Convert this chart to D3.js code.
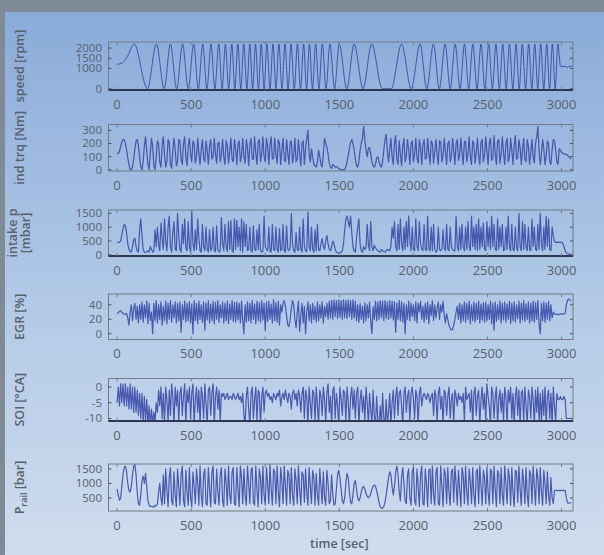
<!DOCTYPE html>
<html><head><meta charset="utf-8">
<script src="https://cdn.jsdelivr.net/npm/d3@7"></script>
<style>body{margin:0;background:#7e8a96}svg{display:block}</style>
</head><body>
<svg id="c" width="604" height="555"></svg>
<script>
// ---------------- DATA ----------------
const xTicks=[0,500,1000,1500,2000,2500,3000];
const speedTicks=[0,1000,1500,2000];
const trqTicks=[0,100,200,300];
const intakeTicks=[0,500,1000,1500];
const egrTicks=[0,20,40];
const soiTicks=[-10,-5,0];
const prailTicks=[500,1000,1500];
const sampleStep=8; // seconds between samples of the sampled series

// speed [rpm]: [time, value] at turning points
const speedPts=[[0,1200],[35,1280],[70,1600],[115,2200],[205,0],[265,2200],[318,0],[360,2200],[402,0],[442,2200],[480,0],[517,2200],[548,0],[578,2200],[606,0],[634,2200],[660,0],[686,2200],[709,0],[731,2200],[753,0],[774,2200],[795,0],[815,2200],[835,0],[855,2200],[876,0],[896,2200],[915,0],[934,2200],[954,0],[973,2200],[992,0],[1011,2200],[1032,0],[1052,2200],[1072,0],[1092,2200],[1113,0],[1133,2200],[1154,0],[1174,2200],[1196,0],[1217,2200],[1238,0],[1259,2200],[1279,0],[1298,2200],[1319,0],[1340,2200],[1362,0],[1385,2200],[1410,0],[1436,2200],[1468,0],[1499,2200],[1550,0],[1600,2200],[1660,0],[1718,2200],[1790,0],[1850,0],[1920,2200],[1985,0],[2045,2200],[2090,0],[2135,2200],[2175,0],[2214,2200],[2248,0],[2282,2200],[2314,0],[2345,2200],[2373,0],[2401,2200],[2429,0],[2456,2200],[2482,0],[2508,2200],[2533,0],[2557,2200],[2580,0],[2603,2200],[2626,0],[2648,2200],[2671,0],[2693,2200],[2714,0],[2735,2200],[2757,0],[2778,2200],[2799,0],[2819,2200],[2839,0],[2859,2200],[2880,0],[2900,2200],[2919,0],[2938,2200],[2957,0],[2975,2200],[2993,1100],[3030,1100],[3040,1050],[3050,1100],[3072,1100]];

// ind trq [Nm], one value every 8 s
const trqVals=[
120,125,140,180,210,230,230,200,150,90,
40,0,0,20,80,160,220,230,180,100,
20,0,60,180,250,150,40,0,120,240,
180,30,0,100,220,200,60,20,180,250,
120,20,60,230,210,40,10,150,240,150,
30,60,230,220,80,40,200,250,100,30,
180,240,120,60,220,200,50,100,240,130,
40,160,230,90,60,220,150,40,180,230,
80,100,240,120,50,200,210,60,120,230,
100,40,220,180,50,140,240,80,60,230,
160,40,200,220,60,110,240,100,50,230,
170,30,190,240,80,80,250,130,40,210,
230,60,120,250,100,60,240,180,40,190,
250,80,90,240,120,50,230,200,40,150,
240,80,60,230,130,40,210,220,50,110,
240,60,80,230,120,30,200,220,40,160,
230,300,120,60,160,100,40,30,20,60,
150,100,40,20,120,240,200,170,120,50,
20,10,40,30,20,25,15,10,5,0,
0,0,0,20,60,110,160,210,230,200,
150,80,30,20,60,150,200,240,330,230,
150,100,160,170,120,60,30,20,40,90,
100,60,30,20,60,150,230,270,150,60,
150,240,100,40,200,260,80,40,220,120,
30,180,240,60,100,230,150,40,200,220,
60,120,240,90,50,230,170,40,190,230,
80,90,240,130,40,220,200,50,140,230,
110,40,220,210,60,110,240,130,40,200,
220,60,100,240,150,40,200,230,70,110,
240,130,40,210,220,60,120,250,100,40,
220,200,50,130,240,110,40,210,230,60,
110,250,140,40,200,240,70,90,260,120,
40,220,230,50,120,250,130,40,200,240,
60,100,240,150,40,190,260,80,90,230,
170,40,150,240,80,60,230,180,40,130,
230,100,50,200,250,330,150,40,120,230,
160,40,100,220,200,60,40,150,230,220,
150,60,40,160,150,130,125,120,120,115,
110,100,90,80];

// intake p [mbar], one value every 8 s
const intakeVals=[
450,450,460,500,700,950,1100,1050,800,400,
200,120,100,300,550,600,300,150,100,900,
1300,700,200,100,80,120,150,100,300,200,
100,150,900,300,1000,400,150,1150,600,200,
1300,500,150,1000,1400,300,100,800,1200,200,
150,1500,700,200,100,1100,400,1300,250,150,
1200,300,100,1600,400,150,900,200,1300,600,
150,100,1100,300,150,1000,200,100,900,150,
250,1000,150,120,1050,200,100,150,1350,400,
150,1100,300,120,1200,200,1250,150,100,1300,
200,1250,300,1000,150,1300,100,1200,300,1100,
150,200,1000,150,100,1050,200,150,900,200,
1100,150,100,150,1400,300,200,150,1000,150,
100,1100,200,150,1000,200,100,950,150,200,
1100,150,100,1050,200,150,250,1500,400,150,
100,800,200,150,1000,200,100,1300,300,150,
120,1550,300,150,1000,200,100,900,150,1100,
200,150,400,600,300,200,500,700,400,200,
150,300,500,400,200,100,80,60,80,100,
150,400,900,1300,1400,1200,1000,1400,800,300,
150,100,600,1000,1300,400,150,100,300,200,
250,1100,400,150,1200,300,150,350,250,200,
150,120,100,200,150,120,100,150,200,180,
150,300,1000,600,1200,300,150,1100,200,1300,
400,150,1000,200,1200,300,1400,500,150,1000,
200,150,1300,300,150,1200,400,200,150,1100,
200,150,1400,200,150,1000,150,1100,200,100,
150,1000,200,150,200,900,250,150,1100,200,
150,1000,300,200,150,150,1400,300,150,1000,
200,1100,300,150,1000,200,1200,300,150,1400,
300,1000,200,1100,150,1300,200,1000,300,1150,
200,150,1200,300,1000,200,1400,300,1100,200,
150,1300,200,1000,300,1100,150,200,1000,200,
1400,300,150,1100,200,150,1000,250,150,1500,
300,150,1200,200,1100,300,150,1000,200,150,
1300,300,1000,200,150,1100,200,1500,400,150,
1000,200,1400,300,1300,200,150,1000,700,500,
450,450,460,450,460,450,420,300,150,80,
40,30,30,30];

// EGR [%], one value every 8 s
const egrVals=[
28,29,31,32,30,28,27,27,28,22,
12,30,40,18,35,42,20,38,15,40,
20,44,16,40,22,45,14,42,18,30,
0,42,18,46,15,40,20,44,12,38,
18,45,14,42,20,46,16,40,22,44,
15,42,18,44,2,40,20,45,16,42,
18,44,15,41,0,46,18,42,14,45,
20,40,16,44,5,42,19,46,15,41,
18,45,14,43,20,46,16,40,22,44,
15,42,18,45,14,41,20,46,17,43,
16,44,19,42,15,45,18,0,40,16,
44,18,42,15,46,20,41,14,45,18,
43,16,46,19,42,4,44,17,45,20,
41,15,47,18,43,16,45,12,40,30,
42,46,38,25,12,10,20,35,46,40,
20,8,30,45,3,25,42,15,38,0,
30,44,18,40,15,42,20,38,16,44,
18,40,22,44,15,38,24,42,20,45,
22,46,20,47,24,46,21,47,23,46,
20,47,22,46,21,47,24,46,20,47,
22,45,18,40,16,42,20,38,15,43,
18,40,22,44,16,0,38,20,45,18,
44,20,46,22,45,18,46,21,44,20,
46,22,45,19,44,2,42,20,46,18,
44,16,42,0,40,20,45,18,42,24,
40,18,44,15,42,30,45,20,38,16,
42,20,44,14,40,25,46,18,40,22,
35,44,20,40,30,45,25,15,28,20,
12,8,5,6,12,20,30,38,20,42,
15,40,18,44,16,42,20,45,14,40,
18,44,16,42,20,45,15,41,19,43,
16,44,18,40,20,45,14,42,5,44,
17,40,20,45,15,42,19,44,16,41,
20,45,14,42,18,44,16,40,21,45,
15,42,19,46,17,41,20,44,15,42,
18,45,16,43,20,46,14,0,42,18,
44,16,42,20,45,18,40,22,30,27,
27,27,26,27,27,28,27,27,28,40,
46,48,47,45];

// SOI [deg CA], one value every 8 s
const soiVals=[
-5,0,-6,1,-5,1,-6,1,-6,0,
-7,1,-7,0,-8,0,-8,-1,-9,-2,
-10,-2,-11,-3,-11,-4,-12,-6,-12,-7,
-12,-8,-11,-5,-8,-1,-6,0,-10,-2,
-12,0,-4,-11,-1,-9,1,-3,-12,0,
-6,-1,-11,-2,0,-9,-3,1,-12,-1,
-5,0,-10,-2,1,-12,-4,0,-8,-1,
-12,0,-3,-10,1,-5,-12,-1,0,-9,
-2,1,-12,-3,0,-7,-1,-11,-2,-3,
-2,-4,-3,-2,-4,-3,-3,-4,-2,-3,
-4,-3,-2,-4,-3,-5,-2,-9,-12,-3,
0,-7,-12,-2,0,-10,-4,0,-11,-1,
-2,-12,-3,0,-8,-2,-1,-3,-2,-4,
-3,-5,-2,-3,-4,-2,-3,-1,-6,-3,
-2,-4,-1,-3,-5,-2,-3,-7,-2,-1,
-4,-2,-6,-1,-3,-8,-2,0,-10,-1,
-3,-12,0,-5,-10,-1,-2,-11,0,-6,
-12,-1,-3,-9,0,-4,-11,-2,1,-8,
-3,-12,-1,0,-10,-2,-6,-12,0,-4,
-9,-1,-2,-11,0,-5,-12,-3,0,-7,
-1,-10,-2,0,-12,-4,-1,-8,-3,-11,
0,-5,-12,-2,-7,-12,-1,-9,-12,-3,
-11,-12,-6,-12,-2,-10,-12,-4,-12,-8,
-2,-12,-5,-1,-10,-3,0,-9,-2,-1,
-6,-12,-2,0,-8,-3,-1,-11,-2,0,
-4,-10,-1,-3,-12,-2,0,-6,-3,-2,
-3,-4,-2,-3,-5,-3,-2,-9,-1,-3,
-11,-2,0,-7,-3,-12,-1,-2,-9,-3,
0,-10,-4,-2,-12,-1,-3,-6,-2,-4,
-3,-5,-2,-11,0,-4,-3,-2,-8,-1,
-12,-2,0,-9,-3,-1,-12,-4,0,-7,
-2,-11,1,-3,-6,-12,0,-2,-10,-3,
0,-12,-4,-1,-8,-2,-11,0,-3,-12,
-1,-5,0,-10,-2,-12,-3,0,-9,-1,
-12,-2,-1,-11,0,-6,-12,-1,-3,-10,
0,-4,-12,-1,-8,0,-11,-2,-12,-1,
-9,0,-12,-3,-1,-10,-2,-12,0,-6,
-11,-2,-4,-4,-3,-4,-4,-3,-4,-10,
-10,-10,-10,-10];

// P_rail [bar], one value every 8 s
const prailVals=[
800,600,420,500,900,1300,1550,1600,1400,1000,
750,700,900,1300,1600,1650,1300,700,300,250,
600,1100,1250,1000,1350,900,400,250,200,220,
200,180,250,220,300,700,1000,500,250,1300,
300,1500,800,200,1200,1550,400,250,1400,600,
200,1500,900,250,1300,1600,400,200,1450,700,
250,1550,500,200,1400,900,300,1500,1000,250,
1600,600,200,1300,1500,300,250,1550,800,200,
1400,1600,350,300,1500,700,250,1300,1550,400,
200,1500,1000,250,1600,600,300,1400,1550,300,
250,1550,800,200,1600,1200,300,1500,600,250,
1600,1000,300,1450,1550,350,250,1600,800,200,
1500,1200,300,1600,600,250,1550,1000,300,1650,
800,250,1500,1400,300,1600,700,200,1550,1100,
300,1600,900,250,1450,1300,300,1550,600,250,
1500,1100,300,1600,800,250,1400,1300,350,1500,
700,250,1550,900,300,1450,1200,250,1350,600,
250,1500,900,300,1400,500,250,1450,1000,300,
400,1300,600,250,300,800,1300,1450,1200,800,
400,300,500,1000,1350,1200,700,350,300,600,
1000,1100,800,500,400,500,700,850,900,800,
650,550,500,550,650,800,900,950,900,750,
550,350,200,150,150,200,350,600,900,1200,
1400,1300,900,600,900,1400,1600,1300,700,400,
1200,1550,1000,400,300,1300,1500,500,250,1400,
1550,400,250,1500,900,200,1300,1600,300,250,
1500,1000,200,1450,1500,300,1600,600,250,1400,
1550,300,250,1600,900,200,1500,1300,300,1550,
700,250,1400,1500,350,1600,1000,250,1450,800,
200,1550,1300,300,1600,700,250,1500,1100,300,
1550,600,200,1400,1500,300,1600,900,250,1450,
1200,300,1550,700,250,1500,1400,300,1600,800,
200,1450,1300,300,1550,600,250,1600,1000,300,
1500,1200,250,1550,700,200,1450,1400,350,1600,
800,250,1500,1100,300,1550,600,200,1450,1300,
300,1600,900,250,1500,1200,300,1550,700,250,
1450,1000,300,1400,600,250,1200,500,300,750,
760,760,750,760,750,760,760,750,760,500,
330,320,330,330];

// ---------------- DRAWING ----------------
const W=604,H=555;
const svg=d3.select('#c');
const defs=svg.append('defs');
const gr=defs.append('linearGradient').attr('id','bg').attr('x1',0).attr('y1',0).attr('x2',0).attr('y2',1);
gr.append('stop').attr('offset','0%').attr('stop-color','#8aabd9');
gr.append('stop').attr('offset','55%').attr('stop-color','#b3cae7');
gr.append('stop').attr('offset','100%').attr('stop-color','#cfdced');
svg.append('rect').attr('width',W).attr('height',H).attr('fill','#7e8a96');
svg.append('rect').attr('x',5).attr('y',12).attr('width',W-5).attr('height',H-12).attr('fill','url(#bg)');

const FONT='"Open Sans", "DejaVu Sans", sans-serif';
const TXT='#56616c';
const x=d3.scaleLinear().domain([-58,3077]).range([108.5,573]);
const sampled=v=>v.map((d,i)=>[i*sampleStep,d]);

const panels=[
 {data:speedPts,ticks:speedTicks,dom:[-60,2300],top:42,bot:90,title:['speed [rpm]'],curve:d3.curveMonotoneX,dark:true},
 {data:sampled(trqVals),ticks:trqTicks,dom:[-10,345],top:124.5,bot:171,title:['ind trq [Nm]']},
 {data:sampled(intakeVals),ticks:intakeTicks,dom:[-40,1620],top:210,bot:256,title:['intake p','[mbar]'],dark:true},
 {data:sampled(egrVals),ticks:egrTicks,dom:[-8,55],top:294,bot:339.5,title:['EGR [%]']},
 {data:sampled(soiVals),ticks:soiTicks,dom:[-10.8,2.7],top:378.5,bot:421,title:['SOI [°CA]'],dark:true},
 {data:sampled(prailVals),ticks:prailTicks,dom:[50,1670],top:464,bot:511,title:['P_rail']}
];

panels.forEach((p,k)=>{
  const y=d3.scaleLinear().domain(p.dom).range([p.bot,p.top]);
  const g=svg.append('g');
  const cid='clip'+k;
  defs.append('clipPath').attr('id',cid).append('rect')
    .attr('x',x.range()[0]).attr('y',p.top).attr('width',x.range()[1]-x.range()[0]).attr('height',p.bot-p.top);
  const line=d3.line().x(d=>x(d[0])).y(d=>y(d[1])).curve(p.curve||d3.curveLinear);
  g.append('path').attr('clip-path',`url(#${cid})`).datum(p.data).attr('d',line)
    .attr('fill','none').attr('stroke','#3444a4').attr('stroke-width',k===0?1:1.2).attr('stroke-opacity',0.85).attr('stroke-linejoin','round');
  // box
  const [x0,x1]=x.range();
  g.append('rect').attr('x',x0).attr('y',p.top).attr('width',x1-x0).attr('height',p.bot-p.top)
    .attr('fill','none').attr('stroke','#717a86').attr('stroke-width',1);
  if(p.dark) g.append('line').attr('x1',x0).attr('x2',x1).attr('y1',p.bot).attr('y2',p.bot).attr('stroke','#2f3550').attr('stroke-width',2);
  // x ticks (inward, top and bottom)
  xTicks.forEach(t=>{
    g.append('line').attr('x1',x(t)).attr('x2',x(t)).attr('y1',p.bot).attr('y2',p.bot-3).attr('stroke','#717a86');
    g.append('line').attr('x1',x(t)).attr('x2',x(t)).attr('y1',p.top).attr('y2',p.top+3).attr('stroke','#717a86');
    g.append('text').attr('x',x(t)).attr('y',p.bot+18.5).attr('text-anchor','middle')
      .attr('font-family',FONT).attr('font-size',13).attr('fill',TXT).text(t);
  });
  // y ticks
  p.ticks.forEach(v=>{
    g.append('line').attr('x1',x0).attr('x2',x0+3).attr('y1',y(v)).attr('y2',y(v)).attr('stroke','#4a5260');
    g.append('line').attr('x1',x1).attr('x2',x1-3).attr('y1',y(v)).attr('y2',y(v)).attr('stroke','#4a5260');
    g.append('text').attr('x',102).attr('y',y(v)+4).attr('text-anchor','end')
      .attr('font-family',FONT).attr('font-size',11.5).attr('fill',TXT).text(v);
  });
  // y title
  const cy=(p.top+p.bot)/2;
  if(p.title[0]==='P_rail'){
    const t=g.append('text').attr('transform',`translate(24,${cy}) rotate(-90)`).attr('text-anchor','middle')
      .attr('font-family',FONT).attr('font-size',12.5).attr('font-weight',600).attr('fill',TXT);
    t.append('tspan').text('P');
    t.append('tspan').attr('font-size',9).attr('dy',3).text('rail');
    t.append('tspan').attr('dy',-3).text(' [bar]');
  } else if(p.title.length===2){
    p.title.forEach((s,i)=>{
      g.append('text').attr('transform',`translate(${17+i*13},${cy}) rotate(-90)`).attr('text-anchor','middle')
        .attr('font-family',FONT).attr('font-size',12.5).attr('font-weight',600).attr('fill',TXT).text(s);
    });
  } else {
    g.append('text').attr('transform',`translate(24,${cy}) rotate(-90)`).attr('text-anchor','middle')
      .attr('font-family',FONT).attr('font-size',12.5).attr('font-weight',600).attr('fill',TXT).text(p.title[0]);
  }
});
svg.append('text').attr('x',x(1500)).attr('y',548).attr('text-anchor','middle')
  .attr('font-family',FONT).attr('font-size',12.5).attr('font-weight',600).attr('fill',TXT).text('time [sec]');
</script>
</body></html>
